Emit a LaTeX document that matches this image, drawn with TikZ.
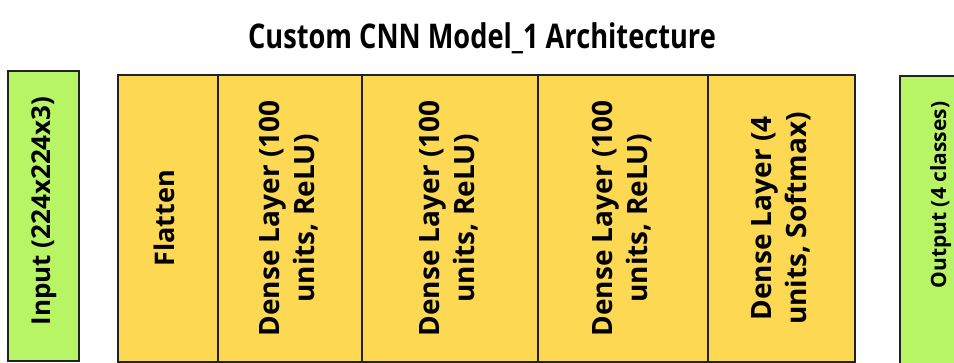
\documentclass[tikz,border=0pt]{standalone}
\usepackage{fontspec}
\setmainfont{Open Sans}[BoldFont={* Bold}]
\newfontfamily\titlefont{Open Sans}[BoldFont={* Bold}, FakeStretch=0.80]
\usepackage{graphicx}

\definecolor{iogreen}{HTML}{B8F565}
\definecolor{layeryellow}{HTML}{FDD853}
\definecolor{edge}{HTML}{222222}

\tikzset{
  block/.style={draw=edge, line width=2.2pt, rectangle, inner sep=0pt, anchor=center,
                font=\bfseries\fontsize{26}{34}\selectfont},
  iobox/.style={block, fill=iogreen},
  layerbox/.style={block, fill=layeryellow, minimum height=287pt},
  densetext/.style={font=\bfseries\fontsize{28}{35}\selectfont},
}

% rotated (bottom-to-top) label, one or two centred lines
\newcommand{\vlabel}[1]{\rotatebox{90}{\begin{tabular}{@{}c@{}}#1\end{tabular}}}

\begin{document}
\begin{tikzpicture}[x=1pt, y=-1pt]
  \useasboundingbox (0,0) rectangle (954,363);
  \clip (0,0) rectangle (954,363);

  % title
  \node (title) at (482,38) {\titlefont\bfseries\fontsize{34}{40}\selectfont Custom CNN Model\_1 Architecture};

  % input
  \node[iobox, minimum width=71pt, minimum height=290pt] (input) at (43.5,216)
    {\vlabel{\hspace*{10pt}Input (224x224x3)}};

  % stacked layer columns
  \node[layerbox, minimum width=100pt, font=\bfseries\fontsize{27}{34}\selectfont] (flatten) at (168,218.5) {\vlabel{Flatten}};
  \node[layerbox, densetext, minimum width=144pt] (dense1) at (290,218.5) {\vlabel{Dense Layer (100\\units, ReLU)}};
  \node[layerbox, densetext, minimum width=176pt] (dense2) at (450,218.5) {\vlabel{Dense Layer (100\\units, ReLU)}};
  \node[layerbox, densetext, minimum width=170pt] (dense3) at (623,218.5) {\vlabel{Dense Layer (100\\units, ReLU)}};
  \node[layerbox, densetext, minimum width=147pt] (dense4) at (781.5,218.5) {\vlabel{Dense Layer (4\\units, Softmax)}};

  % output
  \node[iobox, minimum width=82pt, minimum height=300pt,
        font=\bfseries\fontsize{21}{25}\selectfont] (output) at (941,226)
    {\vlabel{\hspace*{62pt}Output (4 classes)}};
\end{tikzpicture}
\end{document}
